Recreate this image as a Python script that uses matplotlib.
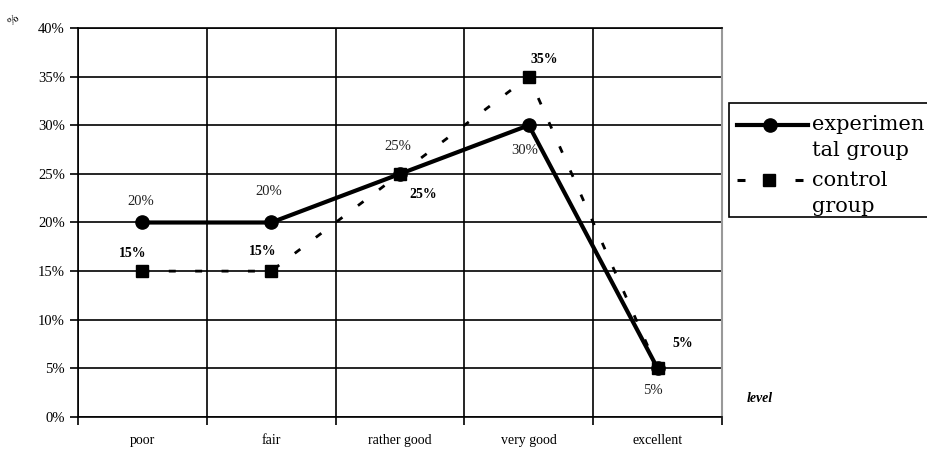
import matplotlib.pyplot as plt
from matplotlib.lines import Line2D
from matplotlib.patches import Rectangle
import numpy as np

levels = ["poor", "fair", "rather good", "very good", "excellent"]
experimental = [20, 20, 25, 30, 5]
control = [15, 15, 25, 35, 5]

# label offsets in pixels from each point
exp_offsets = [(-2, 21), (-2, 31), (-2, 27), (-4, -25), (-5, -22)]
ctl_offsets = [(-10, 18), (-8, 20), (23, -21), (15, 17), (25, 25)]

plt.rcParams['font.family'] = ['Liberation Serif', 'DejaVu Serif']

W, H = 927, 451
fig = plt.figure(figsize=(W / 100, H / 100), dpi=100)
ax = fig.add_axes([78 / W, 1 - 417 / H, 644 / W, 389 / H])

x = np.arange(len(levels))
ax.plot(x, control, color='black', lw=2, dashes=(2.5, 7), marker='s',
        markersize=8, zorder=3)
ax.plot(x, experimental, color='black', lw=3, marker='o', markersize=9.5, zorder=4)

for xi, v, off in zip(x, experimental, exp_offsets):
    ax.annotate(f"{v}%", (xi, v), xytext=off, textcoords='offset pixels',
                ha='center', va='center', fontsize=10.5, color='#222222')
for xi, v, off in zip(x, control, ctl_offsets):
    ax.annotate(f"{v}%", (xi, v), xytext=off, textcoords='offset pixels',
                ha='center', va='center', fontsize=10, fontweight='bold')

ax.set_xlim(-0.5, len(levels) - 0.5)
ax.set_ylim(0, 40)
ax.set_yticks(np.arange(0, 41, 5))
ax.set_yticklabels([f"{t}%" for t in range(0, 41, 5)], fontsize=10.5)
ax.set_xticks(np.arange(-0.5, len(levels), 1))
ax.set_xticklabels([])
ax.set_xticks(x, minor=True)
ax.set_xticklabels(levels, minor=True, fontsize=10)
ax.tick_params(axis='x', which='minor', length=0, pad=12)
ax.tick_params(axis='both', which='major', length=6, width=1.2, color='black')

ax.grid(True, which='major', color='black', lw=1.2)
ax.set_axisbelow(True)
for side in ['left', 'bottom', 'top']:
    ax.spines[side].set_linewidth(1.2)
    ax.spines[side].set_color('black')
ax.spines['right'].set_color('#999999')
ax.spines['right'].set_linewidth(1.5)

fig.text(14 / W, 1 - 20 / H, "%", fontsize=9, ha='center', va='center', rotation=40)
fig.text(760 / W, 1 - 398 / H, "level", fontsize=10, style='italic',
         fontweight='bold', ha='center', va='center')

# legend box, running off the right edge
fig.add_artist(Rectangle((729 / W, 1 - 217 / H), 230 / W, 114 / H,
                         transform=fig.transFigure, facecolor='white',
                         edgecolor='black', lw=1.2, clip_on=False))

def fig_line(xs, y, **kw):
    fig.add_artist(Line2D([v / W for v in xs], [1 - y / H] * len(xs),
                          transform=fig.transFigure, color='black', **kw))

# experimental group handle
fig_line([737, 808], 125, lw=3)
fig_line([770], 125, marker='o', markersize=9.5, linestyle='none')
# control group handle: dash, square, dash
fig_line([737, 745], 180, lw=2.2, solid_capstyle='butt')
fig_line([795, 803], 180, lw=2.2, solid_capstyle='butt')
fig_line([769], 180, marker='s', markersize=8, linestyle='none')

legend_font = dict(family='DejaVu Serif', size=15)
for lines, y0 in [(["experimen", "tal group"], 125), (["control", "group"], 180)]:
    for i, line in enumerate(lines):
        fig.text(812 / W, 1 - (y0 + 26 * i) / H, line, ha='left', va='center',
                 **legend_font)

fig.savefig("out.png", dpi=100)
